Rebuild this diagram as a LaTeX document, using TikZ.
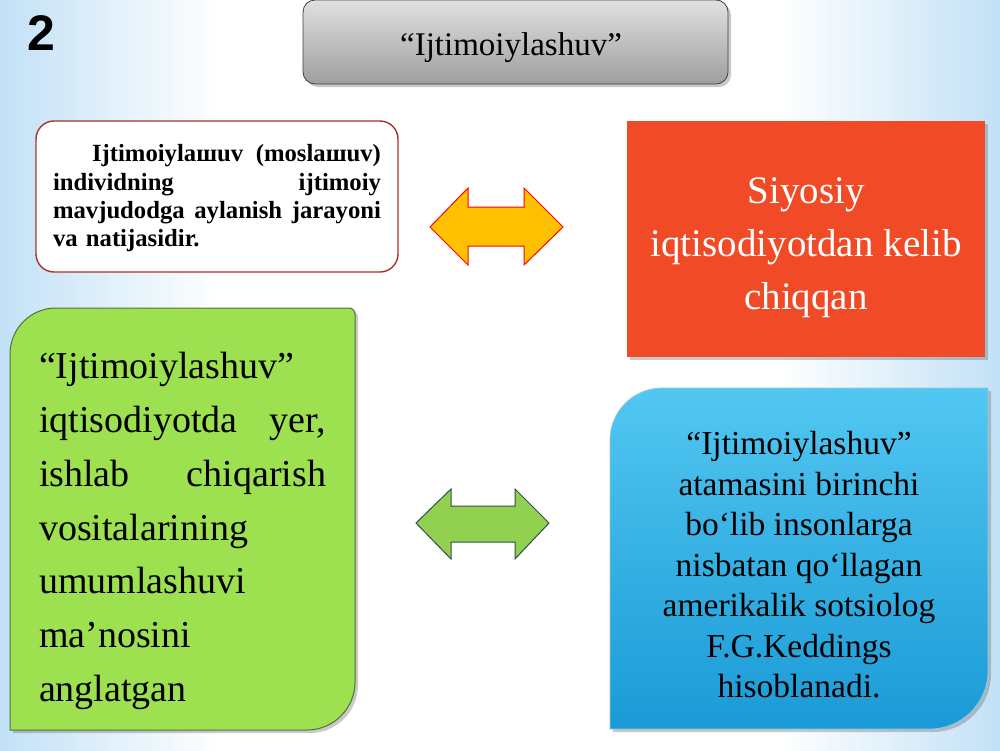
\documentclass[tikz,border=0pt]{standalone}
\usepackage{fontspec}
\setmainfont{Liberation Serif}
\newfontfamily\numfont{Liberation Sans}
\usetikzlibrary{shadows}
\definecolor{bgblue}{HTML}{C2E1F6}
\definecolor{redfill}{HTML}{F04A26}
\definecolor{greenfill}{HTML}{9DE050}
\definecolor{greenedge}{HTML}{55703A}
\definecolor{arrowgreen}{HTML}{92D050}
\definecolor{arrowgreenedge}{HTML}{2F4F4F}
\definecolor{orangefill}{HTML}{FFC000}
\definecolor{defedge}{HTML}{A8322A}
\definecolor{bluetop}{HTML}{52C7F1}
\definecolor{bluebot}{HTML}{1A9AD6}
\definecolor{blueedge}{HTML}{9BC8DC}
\pgfdeclarehorizontalshading{bgshade}{100bp}{color(0bp)=(bgblue); color(25bp)=(bgblue); color(36bp)=(white); color(64bp)=(white); color(75bp)=(bgblue); color(100bp)=(bgblue)}
\newcommand{\jline}[2]{\leavevmode\hbox to #1{#2}}
\begin{document}
\begin{tikzpicture}[x=1pt,y=-1pt,
  softshadow/.style={drop shadow={shadow xshift=3pt, shadow yshift=-3pt, opacity=0.35, fill=black!60}},
  titlebox/.style={draw=black!75, line width=0.8pt, rounded corners=12pt, top color=black!12, bottom color=black!38, minimum width=425pt, minimum height=84pt, inner sep=0pt, softshadow},
  defbox/.style={draw=defedge, line width=1.4pt, fill=white, rounded corners=18pt, minimum width=362pt, minimum height=151pt, inner sep=0pt},
  redbox/.style={fill=redfill, minimum width=358pt, minimum height=236pt, inner sep=0pt, softshadow},
  txt/.style={inner sep=0pt, text=black},
  bigarrow/.style={line width=1pt, line join=miter}
]
\useasboundingbox (0,0) rectangle (1000,750);
\shade[shading=bgshade] (0,0) rectangle (1000,750);

% number
\node[txt, font=\numfont\bfseries\fontsize{50}{50}\selectfont] (num) at (41.5,33.5) {2};

% title
\node[titlebox] (title) at (515.5,42) {};
\node[txt, font=\fontsize{33}{36}\selectfont] (titletext) at (511,47.5) {“Ijtimoiylashuv”};

% definition box
\node[defbox] (defbox) at (217,196.5) {};
\node[txt, font=\bfseries\fontsize{24.7}{28.3}\selectfont, text width=328pt, align=left] (deftext) at (217,198.5)
  {\jline{328pt}{\hspace*{39pt}Ijtimoiylaшuv\hfill(moslaшuv)}\\
   \jline{328pt}{individning\hfill ijtimoiy}\\
   \jline{328pt}{mavjudodga\hfill aylanish\hfill jarayoni}\\
   va natijasidir.};

% red box
\node[redbox] (siyosiy) at (806,239) {};
\node[txt, text=white, font=\fontsize{39}{53}\selectfont, align=center] (siyosiytext) at (806,248)
  {Siyosiy\\iqtisodiyotdan kelib\\chiqqan};

% orange double arrow
\draw[bigarrow, draw=red, fill=orangefill]
  (430,227) -- (468,188) -- (468,207) -- (524,207) -- (524,188) -- (563,227)
  -- (524,265) -- (524,246) -- (468,246) -- (468,265) -- cycle;

% green box
\path[draw=greenedge, line width=1pt, fill=greenfill, softshadow]
  (10,730) -- (10,354) .. controls (10,328.6) and (30.6,308) .. (56,308)
  -- (349,308) .. controls (352.3,308) and (355,310.7) .. (355,314)
  -- (355,682) .. controls (355,708.5) and (333.5,730) .. (307,730) -- cycle;
\node[txt, font=\fontsize{38}{53.8}\selectfont, text width=287pt, align=left] (greentext) at (182.5,531)
  {“Ijtimoiylashuv”\\
   \jline{287pt}{iqtisodiyotda\hfill yer,}\\
   \jline{287pt}{ishlab\hfill chiqarish}\\
   vositalarining\\
   umumlashuvi\\
   ma’nosini\\
   anglatgan};

% green double arrow
\draw[bigarrow, draw=arrowgreenedge, fill=arrowgreen]
  (416,523) -- (451,489) -- (451,506) -- (515,506) -- (515,489) -- (549,523)
  -- (515,559) -- (515,542) -- (451,542) -- (451,559) -- cycle;

% blue box
\path[draw=blueedge, line width=0.8pt, top color=bluetop, bottom color=bluebot, softshadow]
  (610,729) -- (610,440) .. controls (610,411.3) and (633.3,388) .. (662,388)
  -- (988,388) -- (988,671) .. controls (988,703) and (962,729) .. (930,729) -- cycle;
\node[txt, font=\fontsize{33.5}{40.5}\selectfont, align=center] (bluetext) at (799,565)
  {“Ijtimoiylashuv”\\atamasini birinchi\\bo‘lib insonlarga\\nisbatan qo‘llagan\\amerikalik sotsiolog\\F.G.Keddings\\hisoblanadi.};
\end{tikzpicture}
\end{document}
